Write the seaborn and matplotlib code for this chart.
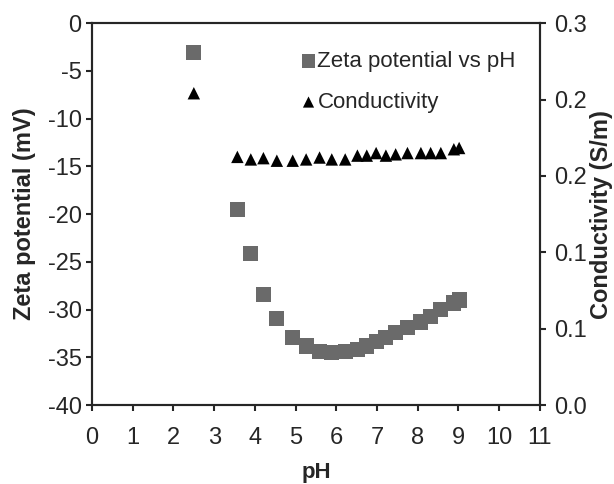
import seaborn as sns
import matplotlib.pyplot as plt
import pandas as pd

# values
ph = [2.5, 3.57, 3.9, 4.21, 4.54, 4.93, 5.26, 5.59, 5.89, 6.22, 6.52,
      6.75, 6.98, 7.22, 7.46, 7.75, 8.08, 8.32, 8.57, 8.89, 9.02]
zeta = [-3.1, -19.5, -24.1, -28.4, -30.9, -32.9, -33.8, -34.4, -34.5, -34.4, -34.2,
        -33.8, -33.3, -32.9, -32.4, -31.9, -31.3, -30.7, -30.0, -29.3, -29.0]
cond = [0.245, 0.195, 0.193, 0.194, 0.192, 0.192, 0.193, 0.1945, 0.193, 0.193, 0.196,
        0.196, 0.198, 0.196, 0.197, 0.198, 0.198, 0.198, 0.198, 0.201, 0.202]

x_ticks = list(range(0, 12))
zeta_ticks = list(range(-40, 1, 5))
cond_ticks = [0.0, 0.06, 0.12, 0.18, 0.24, 0.30]

df = pd.DataFrame({'pH': ph, 'zeta': zeta, 'cond': cond})

sns.set_style('ticks')
plt.rcParams['font.family'] = ['Liberation Sans', 'DejaVu Sans']
plt.rcParams['axes.unicode_minus'] = False
plt.rcParams['axes.linewidth'] = 1.5
plt.rcParams['xtick.major.width'] = 1.5
plt.rcParams['ytick.major.width'] = 1.5
plt.rcParams['xtick.major.size'] = 4.5
plt.rcParams['ytick.major.size'] = 4.5

fig = plt.figure(figsize=(6.14, 4.84), dpi=100)
ax = fig.add_axes([0.150, 0.163, 0.729, 0.789])
ax2 = ax.twinx()

sns.scatterplot(data=df, x='pH', y='zeta', ax=ax, marker='s', s=120,
                color='#6a6a6a', edgecolor='none', label='Zeta potential vs pH',
                legend=False)
sns.scatterplot(data=df, x='pH', y='cond', ax=ax2, marker='^', s=80,
                color='black', edgecolor='none', label='Conductivity',
                legend=False)

ax.set_xlim(0, 11)
ax.set_ylim(-40, 0)
ax2.set_ylim(0, 0.3)
ax.set_xticks(x_ticks)
ax.set_yticks(zeta_ticks)
ax2.set_yticks(cond_ticks)
ax2.set_yticklabels([f'{v:.1f}' for v in cond_ticks])

ax.tick_params(labelsize=17, pad=3)
ax2.tick_params(labelsize=17, pad=6)
ax.tick_params(axis='x', pad=11)

ax.set_xlabel('pH', fontsize=16, fontweight='bold')
ax.set_ylabel('Zeta potential (mV)', fontsize=17, fontweight='bold')
ax2.set_ylabel('Conductivity (S/m)', fontsize=17, fontweight='bold')
ax.xaxis.set_label_coords(0.5, -0.148)
ax.yaxis.set_label_coords(-0.126, 0.5)
ax2.yaxis.set_label_coords(1.112, 0.5)

h1, l1 = ax.get_legend_handles_labels()
h2, l2 = ax2.get_legend_handles_labels()
ax2.legend(h1 + h2, l1 + l2, loc='upper left', bbox_to_anchor=(0.414, 0.98),
           frameon=False, fontsize=16, handletextpad=-0.1, handlelength=1.0,
           labelspacing=0.9, markerscale=0.9)

fig.savefig('out.png', dpi=100)
